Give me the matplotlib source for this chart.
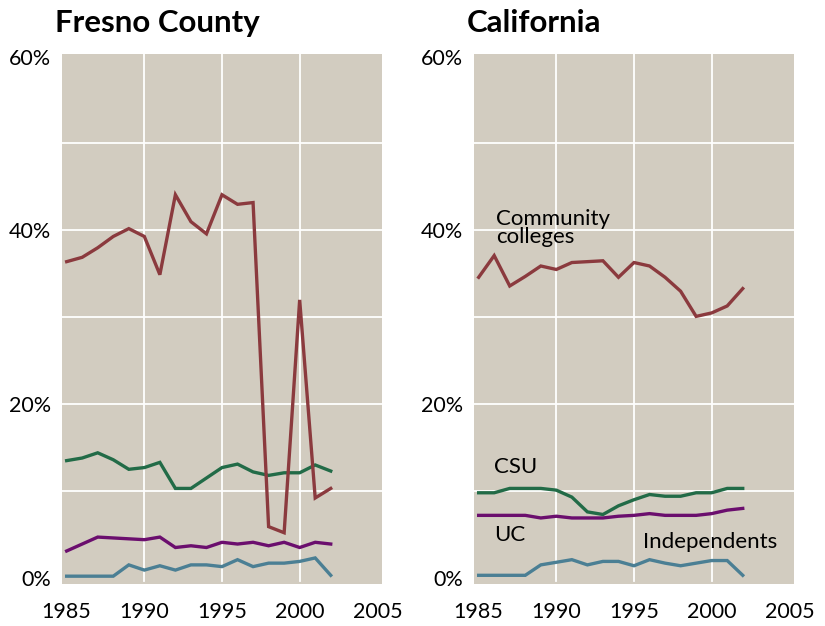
import matplotlib
matplotlib.use("Agg")
import matplotlib.pyplot as plt

years = list(range(1985, 2003))

# Fresno County (% share)
fresno_cc = [36.4, 36.9, 38.0, 39.3, 40.2, 39.3, 34.9, 44.1, 41.0, 39.6, 44.1, 43.0, 43.2, 5.9, 5.2, 32.0, 9.2, 10.3]
fresno_csu = [13.5, 13.8, 14.4, 13.6, 12.5, 12.7, 13.3, 10.3, 10.3, 11.5, 12.7, 13.1, 12.2, 11.8, 12.1, 12.1, 13.0, 12.3]
fresno_uc = [3.1, 3.9, 4.7, 4.6, 4.5, 4.4, 4.7, 3.5, 3.7, 3.5, 4.1, 3.9, 4.1, 3.7, 4.1, 3.5, 4.1, 3.9]
fresno_ind = [0.2, 0.2, 0.2, 0.2, 1.5, 0.9, 1.4, 0.9, 1.5, 1.5, 1.3, 2.1, 1.3, 1.7, 1.7, 1.9, 2.3, 0.3]

# California (% share)
ca_cc = [34.6, 37.1, 33.6, 34.7, 35.9, 35.5, 36.3, 36.4, 36.5, 34.6, 36.3, 35.9, 34.6, 33.0, 30.1, 30.5, 31.3, 33.3]
ca_csu = [9.8, 9.8, 10.3, 10.3, 10.3, 10.1, 9.3, 7.6, 7.3, 8.3, 9.0, 9.6, 9.4, 9.4, 9.8, 9.8, 10.3, 10.3]
ca_uc = [7.2, 7.2, 7.2, 7.2, 6.9, 7.1, 6.9, 6.9, 6.9, 7.1, 7.2, 7.4, 7.2, 7.2, 7.2, 7.4, 7.8, 8.0]
ca_ind = [0.3, 0.3, 0.3, 0.3, 1.5, 1.8, 2.1, 1.5, 1.9, 1.9, 1.4, 2.1, 1.7, 1.4, 1.7, 2.0, 2.0, 0.3]

titles = ["Fresno County", "California"]
xticks = [1985, 1990, 1995, 2000, 2005]
yticks = [0, 20, 40, 60]
ytick_labels = ["0%", "20%", "40%", "60%"]

BG = "#d2ccc0"
C_CC = "#8b3a3e"
C_CSU = "#226b47"
C_UC = "#6b0e6e"
C_IND = "#4b7f94"
FONT = "Lato"

fig = plt.figure(figsize=(8.25, 6.26), dpi=100)
W, H = 825, 626
axes_px = [(62, 382), (474, 794)]
top_px, bot_px = 54, 584

datasets = [
    (fresno_cc, fresno_csu, fresno_uc, fresno_ind),
    (ca_cc, ca_csu, ca_uc, ca_ind),
]

for i, (x0, x1) in enumerate(axes_px):
    ax = fig.add_axes([x0 / W, 1 - bot_px / H, (x1 - x0) / W, (bot_px - top_px) / H])
    ax.set_facecolor(BG)
    for s in ax.spines.values():
        s.set_visible(False)
    ax.set_xlim(1984.7, 2005.3)
    ax.set_ylim(-0.7, 60.3)
    for gy in [10, 20, 30, 40, 50]:
        ax.axhline(gy, color="white", lw=1.3, zorder=1)
    for gx in [1990, 1995, 2000]:
        ax.axvline(gx, ymin=0.005, ymax=1, color="white", lw=1.3, zorder=1)
    cc, csu, uc, ind = datasets[i]
    ax.plot(years, ind, color=C_IND, lw=2.4, zorder=3, solid_joinstyle="miter")
    ax.plot(years, uc, color=C_UC, lw=2.4, zorder=3, solid_joinstyle="miter")
    ax.plot(years, csu, color=C_CSU, lw=2.4, zorder=3, solid_joinstyle="miter")
    ax.plot(years, cc, color=C_CC, lw=2.4, zorder=4, solid_joinstyle="miter")
    ax.set_xticks(xticks)
    ax.set_xticklabels([str(t) for t in xticks], fontsize=15.5, fontfamily=FONT)
    ax.set_yticks(yticks)
    ax.set_yticklabels(ytick_labels, fontsize=15.5, fontfamily=FONT)
    ax.tick_params(axis="both", length=0, colors="black")
    ax.tick_params(axis="x", pad=13)
    ax.tick_params(axis="y", pad=8)
    fig.text((x0 - 7) / W, 1 - 32 / H, titles[i], fontsize=22.5, fontweight="bold",
             fontfamily=FONT, ha="left", va="baseline")
    if i == 1:
        ax.text(1986.1, 38.5, "Community\ncolleges", fontsize=16, fontfamily=FONT,
                ha="left", va="baseline", linespacing=0.9, zorder=5)
        ax.text(1986.0, 12.1, "CSU", fontsize=16, fontfamily=FONT, ha="left", va="baseline", zorder=5)
        ax.text(1986.0, 4.2, "UC", fontsize=16, fontfamily=FONT, ha="left", va="baseline", zorder=5)
        ax.text(1995.55, 3.4, "Independents", fontsize=16, fontfamily=FONT, ha="left", va="baseline", zorder=5)

fig.savefig("out.png", dpi=100, facecolor="white")
